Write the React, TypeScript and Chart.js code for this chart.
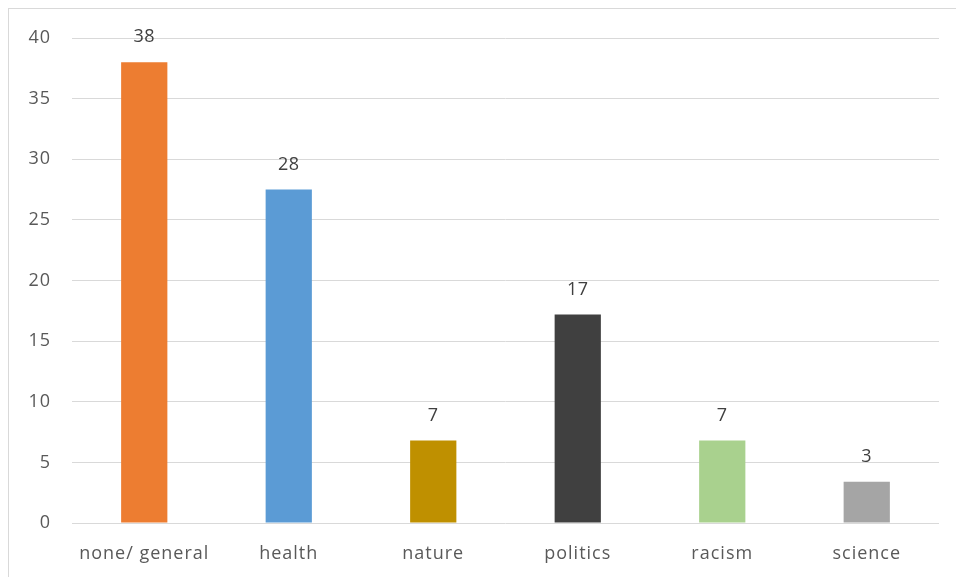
import React, { useEffect, useRef } from "react";
import { Chart, registerables } from "chart.js";

Chart.register(...registerables);

const categories = ["none/ general", "health", "nature", "politics", "racism", "science"];
const values = [38, 27.5, 6.8, 17.2, 6.8, 3.4];
const barColors = ["#ED7D31", "#5B9BD5", "#BF9000", "#404040", "#A9D18E", "#A5A5A5"];
const yTicks = [0, 5, 10, 15, 20, 25, 30, 35, 40];

const FONT = "'Open Sans', 'DejaVu Sans', sans-serif";

const spacingPlugin = {
  id: "spacing",
  beforeDraw(chart: any) {
    (chart.ctx as any).letterSpacing = "1px";
  },
};

const labelPlugin = {
  id: "valueLabels",
  afterDatasetsDraw(chart: any) {
    const ctx = chart.ctx;
    const meta = chart.getDatasetMeta(0);
    ctx.save();
    (ctx as any).letterSpacing = "0.5px";
    ctx.font = `18px ${FONT}`;
    ctx.fillStyle = "#404040";
    ctx.textAlign = "center";
    ctx.textBaseline = "middle";
    meta.data.forEach((bar: any, i: number) => {
      const v = chart.data.datasets[0].data[i] as number;
      ctx.fillText(String(Math.round(v)), bar.x, bar.y - 25);
    });
    ctx.restore();
  },
};

export default function App() {
  const ref = useRef<HTMLCanvasElement>(null);
  useEffect(() => {
    if (!ref.current) return;
    const chart = new Chart(ref.current, {
      type: "bar",
      data: {
        labels: categories,
        datasets: [
          {
            data: values,
            backgroundColor: barColors,
            borderWidth: 0,
            categoryPercentage: 1,
            barPercentage: 0.32,
          },
        ],
      },
      options: {
        responsive: false,
        animation: false,
        devicePixelRatio: 1,
        layout: { padding: { top: 38, right: 17, left: 0, bottom: 0 } },
        plugins: { legend: { display: false }, tooltip: { enabled: false } },
        scales: {
          x: {
            grid: { display: false, drawTicks: false },
            border: { display: false },
            ticks: {
              color: "#595959",
              font: { family: FONT, size: 18 },
              padding: 20,
              maxRotation: 0,
              autoSkip: false,
            },
            afterFit(scale: any) {
              scale.height = 54;
            },
          },
          y: {
            min: 0,
            max: 40,
            afterBuildTicks(scale: any) {
              scale.ticks = yTicks.map((v) => ({ value: v }));
            },
            grid: { color: "#d9d9d9", lineWidth: 1, drawTicks: false },
            border: { display: false },
            ticks: {
              color: "#595959",
              font: { family: FONT, size: 18 },
              padding: 21,
            },
            afterFit(scale: any) {
              scale.width = 72;
            },
          },
        },
      },
      plugins: [spacingPlugin, labelPlugin],
    });
    return () => chart.destroy();
  }, []);
  return (
    <div style={{ position: "fixed", left: 0, top: 0, width: 956, height: 577, overflow: "hidden", background: "#fff" }}>
      <div
        style={{
          position: "absolute",
          left: 8,
          top: 8,
          width: 1000,
          height: 1000,
          borderLeft: "1px solid #d9d9d9",
          borderTop: "1px solid #d9d9d9",
        }}
      />
      <canvas
        ref={ref}
        width={956}
        height={577}
        style={{ position: "absolute", left: 0, top: 0, width: 956, height: 577 }}
      />
    </div>
  );
}
